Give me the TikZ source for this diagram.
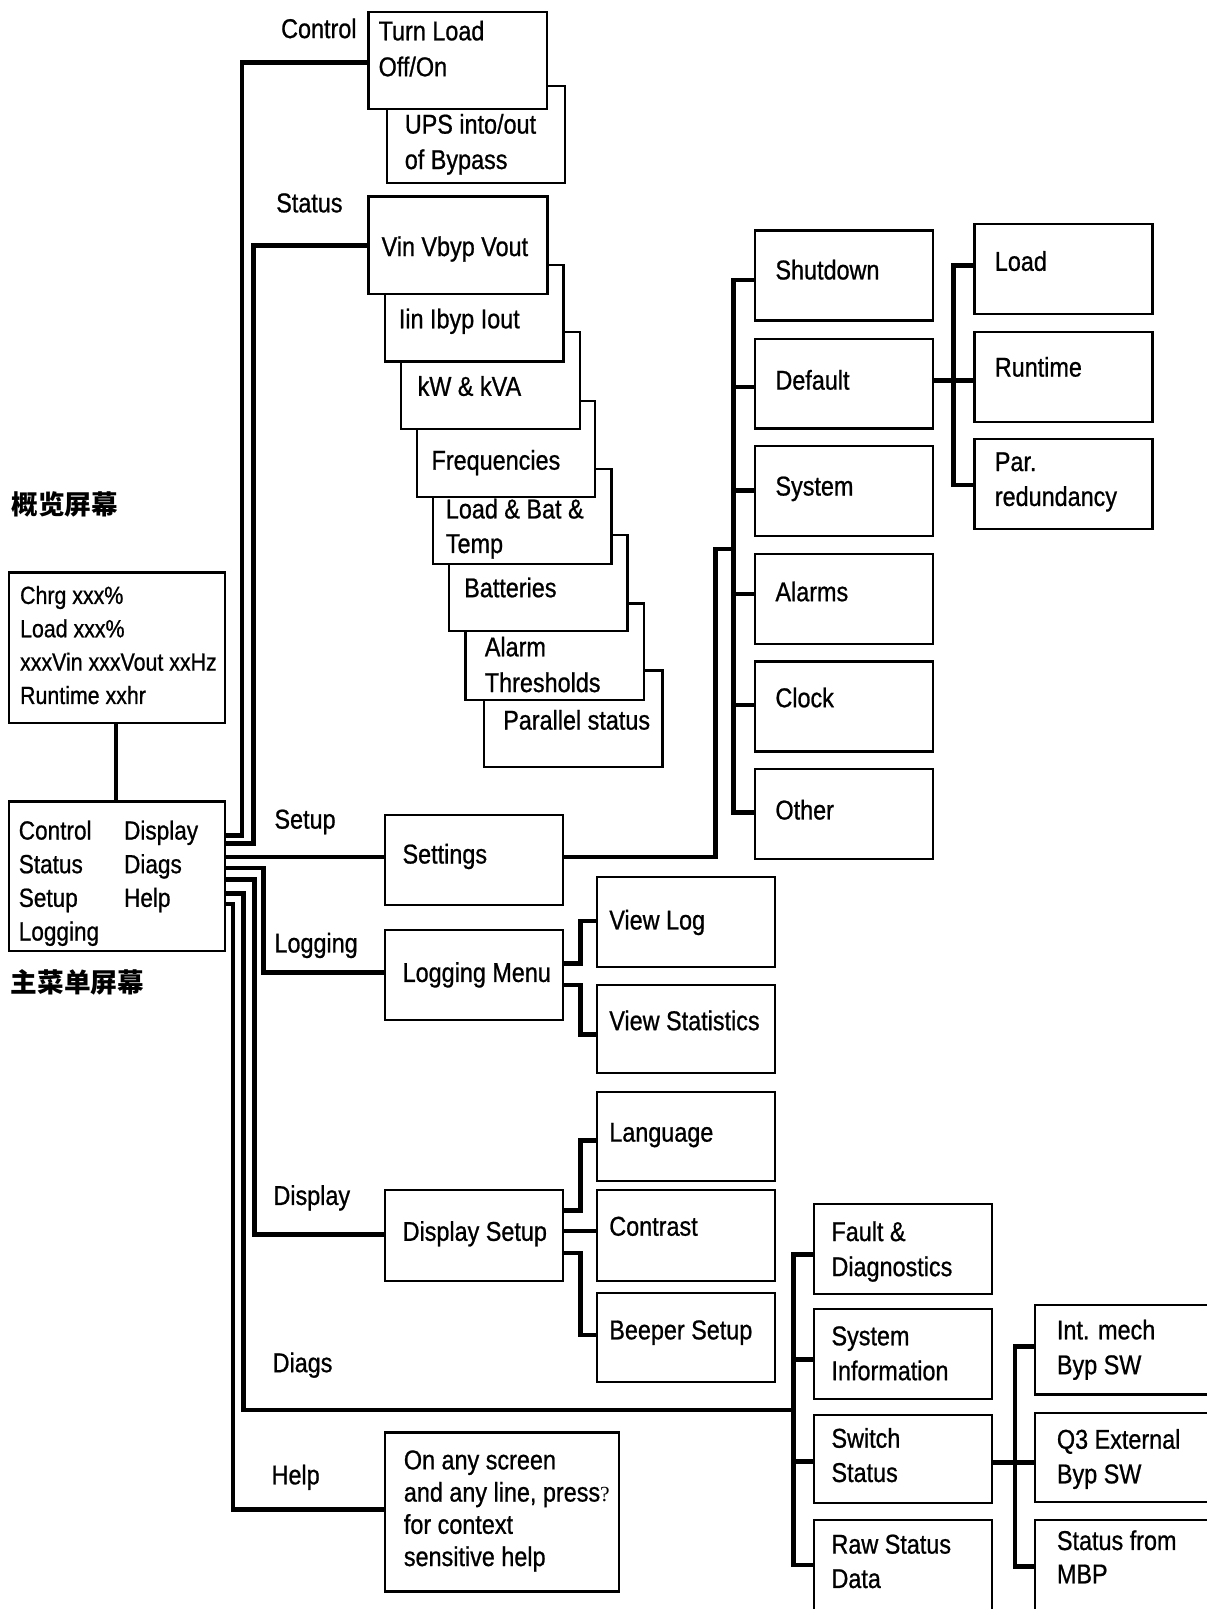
\documentclass[tikz,border=0pt]{standalone}
\usepackage{fontspec}
\newfontfamily\nf[FakeStretch=0.86,FakeBold=0.8]{Liberation Sans}
\newfontfamily\qf{Liberation Serif}
\newfontfamily\cjk{Noto Sans CJK SC}
\newcommand\mybox[5]{\node[box,minimum width={(#4)-(#2)},minimum height={(#5)-(#3)}] (#1) at (#2,#3) {};}
\newcommand\fA{\nf\fontsize{26.5}{34}\selectfont}
\begin{document}
\begin{tikzpicture}[x=1pt,y=-1pt,
  box/.style={draw, line width=2.2pt, fill=white, anchor=north west, inner sep=0pt, outer sep=0pt},
  txt/.style={anchor=north west, inner sep=0pt, outer sep=0pt, align=left, font=\fA},
  conn/.style={line width=4.5pt, line join=miter},
  cn/.style={inner sep=0pt, font=\cjk\bfseries\fontsize{26}{30}\selectfont}]
\fill[white] (0,0) rectangle (1176,1568);
\useasboundingbox (0,0) rectangle (1176,1568);

% Chinese titles
\node[cn] (cnov) at (63.3,491.4) {概览屏幕};
\node[cn] (cnmain) at (75.6,957.7) {主菜单屏幕};

% overview and main menu
\mybox{ov}{8.7}{558}{219.6}{704.7}
\node[txt,font=\nf\fontsize{24.2}{32.5}\selectfont] (ovt) at (19.6,571) {Chrg xxx\%\\Load xxx\%\\xxxVin xxxVout xxHz\\Runtime xxhr};
\mybox{main}{8.7}{781}{219.5}{927}
\node[txt,font=\nf\fontsize{25.6}{32.8}\selectfont] (maint1) at (18.3,799.6) {Control\\Status\\Setup\\Logging};
\node[txt,font=\nf\fontsize{25.6}{32.8}\selectfont] (maint2) at (120.9,799.6) {Display\\Diags\\Help};

% branch labels
\node[txt] (lcontrol) at (274,17.9) {Control};
\node[txt] (lstatus) at (269.2,188.4) {Status};
\node[txt] (lsetup) at (267.5,789) {Setup};
\node[txt] (llogging) at (267.5,909) {Logging};
\node[txt] (ldisplay) at (266.5,1155) {Display};
\node[txt] (ldiags) at (265.7,1318) {Diags};
\node[txt] (lhelp) at (264.7,1427.3) {Help};

% control boxes
\mybox{ups}{377.3}{83.8}{550.7}{178}
\node[txt,font=\nf\fontsize{26.5}{34.5}\selectfont] (upst) at (394.5,111) {UPS into/out\\of Bypass};
\mybox{tl}{359}{11.7}{533}{106}
\node[txt,font=\nf\fontsize{26.5}{35}\selectfont] (tlt) at (369,20.1) {Turn Load\\Off/On};

% status cascade (drawn back to front)
\mybox{par}{471.9}{653.4}{645.6}{747.5}
\node[txt] (part) at (490.4,691.8) {Parallel status};
\mybox{alarm}{453.7}{588.2}{627.4}{682}
\node[txt,font=\nf\fontsize{26.5}{34.8}\selectfont] (alarmt) at (472.5,620.4) {Alarm\\Thresholds};
\mybox{bat}{437.8}{521.5}{611.5}{614.9}
\node[txt] (batt) at (452.4,562.8) {Batteries};
\mybox{lbt}{422.2}{456.7}{596}{549.7}
\node[txt,font=\nf\fontsize{26.5}{33.7}\selectfont] (lbtt) at (434.5,486) {Load \& Bat \&\\Temp};
\mybox{freq}{406.4}{390.7}{579.8}{484}
\node[txt] (freqt) at (420.6,438.5) {Frequencies};
\mybox{kw}{390.8}{323.8}{564.9}{418.3}
\node[txt] (kwt) at (407,366.5) {kW \& kVA};
\mybox{iin}{375.5}{258.2}{549.2}{352.4}
\node[txt] (iint) at (388.7,300.7) {Iin Ibyp Iout};
\mybox{vin}{359}{191.6}{533.5}{286.4}
\node[txt] (vint) at (371.9,230.3) {Vin Vbyp Vout};

% setup
\mybox{settings}{375}{794}{548.9}{881.7}
\node[txt] (settingst) at (392.3,822.3) {Settings};
\mybox{shutdown}{735.5}{224.5}{909}{312.3}
\node[txt] (shutdownt) at (755.7,253.1) {Shutdown};
\mybox{default}{735.5}{330}{909}{417.5}
\node[txt] (defaultt) at (755.7,360.5) {Default};
\mybox{system}{735.5}{434.5}{909}{522.2}
\node[txt] (systemt) at (755.7,464.4) {System};
\mybox{alarms}{735.5}{539.7}{909}{627.4}
\node[txt] (alarmst) at (755.7,566.7) {Alarms};
\mybox{clock}{735.5}{644.7}{909}{732.3}
\node[txt] (clockt) at (755.7,670) {Clock};
\mybox{other}{735.5}{749.5}{909}{837.3}
\node[txt] (othert) at (755.7,779.4) {Other};
\mybox{load}{949.7}{218}{1123}{306}
\node[txt] (loadt) at (969.5,244.7) {Load};
\mybox{runtime}{949.7}{323.5}{1123}{411}
\node[txt] (runtimet) at (969.5,347.8) {Runtime};
\mybox{parred}{949.7}{427.7}{1123}{515.2}
\node[txt] (parredt) at (969.5,440.8) {Par.\\redundancy};

% logging
\mybox{logm}{375}{906}{549}{994}
\node[txt] (logmt) at (392.4,937.7) {Logging Menu};
\mybox{viewlog}{581.5}{855}{755}{942}
\node[txt] (viewlogt) at (593.8,886.6) {View Log};
\mybox{viewstat}{581.5}{960}{755}{1046}
\node[txt] (viewstatt) at (593.8,984.7) {View Statistics};

% display
\mybox{dset}{375}{1160}{549}{1248}
\node[txt] (dsett) at (392.4,1190) {Display Setup};
\mybox{lang}{581.5}{1064}{755}{1151}
\node[txt] (langt) at (593.8,1094.3) {Language};
\mybox{contrast}{581.5}{1160}{755}{1248}
\node[txt] (contrastt) at (593.8,1185.7) {Contrast};
\mybox{beeper}{581.5}{1260}{755}{1347}
\node[txt] (beepert) at (593.8,1286.7) {Beeper Setup};

% diags
\mybox{fault}{793.4}{1173}{967}{1261}
\node[txt,font=\nf\fontsize{26.5}{34.2}\selectfont] (faultt) at (810.3,1190.2) {Fault \&\\Diagnostics};
\mybox{sysinfo}{793.4}{1275.5}{967}{1363}
\node[txt] (sysinfot) at (810.3,1292.5) {System\\Information};
\mybox{switch}{793.4}{1378.6}{967}{1465}
\node[txt,font=\nf\fontsize{26.5}{33.4}\selectfont] (switcht) at (810.3,1391.6) {Switch\\Status};
\mybox{raw}{793.4}{1481.6}{967}{1574}
\node[txt,font=\nf\fontsize{26.5}{33.5}\selectfont] (rawt) at (810.3,1495.5) {Raw Status\\Data};
\mybox{intm}{1008.5}{1271.5}{1190}{1359}
\node[txt] (intmt) at (1030,1286) {Int. mech\\Byp SW};
\mybox{q3}{1008.5}{1376.7}{1190}{1464}
\node[txt,font=\nf\fontsize{26.5}{33.7}\selectfont] (q3t) at (1030,1392.6) {Q3 External\\Byp SW};
\mybox{mbp}{1008.5}{1481.6}{1190}{1574}
\node[txt,font=\nf\fontsize{26.5}{32.5}\selectfont] (mbpt) at (1030,1491.3) {Status from\\MBP};

% help
\mybox{help}{375}{1396}{603}{1551}
\node[txt,font=\nf\fontsize{26.5}{31.4}\selectfont] (helpt) at (393.6,1413.4) {On any screen\\and any line, press{\qf\fontsize{21}{21}\selectfont ?}\\for context\\sensitive help};

% connectors
\draw[conn] (ov.south -| 113,0) -- (main.north -| 113,0);
\draw[conn] (main.east |- 0,814) -- (236,814) |- (tl.west |- 0,61);
\draw[conn] (main.east |- 0,822) -- (247,822) |- (vin.west |- 0,239.4);
\draw[conn] (main.east |- 0,835) -- (settings.west |- 0,835);
\draw[conn] (main.east |- 0,846) -- (257,846) |- (logm.west |- 0,948);
\draw[conn] (main.east |- 0,857) -- (248,857) |- (dset.west |- 0,1203);
\draw[conn] (main.east |- 0,871) -- (237,871) |- (773,1374);
\draw[conn] (main.east |- 0,881) -- (227,881) |- (help.west |- 0,1471);

\draw[conn] (settings.east |- 0,835) -- (697,835) -- (697,535) -- (714.5,535);
\draw[conn] (shutdown.west |- 0,272.8) -| (714.5,792) -- (other.west |- 0,792);
\foreach \n/\y in {default/377,system/478,alarms/578.7,clock/687}
  \draw[conn] (714.5,\y) -- (\n.west |- 0,\y);
\draw[conn] (default.east |- 0,371) -- (929,371) -- (runtime.west |- 0,371);
\draw[conn] (load.west |- 0,259) -| (929,472.5) -- (parred.west |- 0,472.5);

\draw[conn] (logm.east |- 0,939) -| (566,897.5) -- (viewlog.west |- 0,897.5);
\draw[conn] (logm.east |- 0,960) -| (566,1008) -- (viewstat.west |- 0,1008);

\draw[conn] (dset.east |- 0,1179.6) -| (566,1111.6) -- (lang.west |- 0,1111.6);
\draw[conn] (dset.east |- 0,1199.5) -- (contrast.west |- 0,1199.5);
\draw[conn] (dset.east |- 0,1221) -| (566,1301) -- (beeper.west |- 0,1301);

\draw[conn] (fault.west |- 0,1222.7) -| (773,1525) -- (raw.west |- 0,1525);
\draw[conn] (773,1325) -- (sysinfo.west |- 0,1325);
\draw[conn] (773,1424) -- (switch.west |- 0,1424);
\draw[conn] (switch.east |- 0,1425) -- (989,1425) -- (q3.west |- 0,1425);
\draw[conn] (intm.west |- 0,1312) -| (989,1526.4) -- (mbp.west |- 0,1526.4);
\end{tikzpicture}
\end{document}
